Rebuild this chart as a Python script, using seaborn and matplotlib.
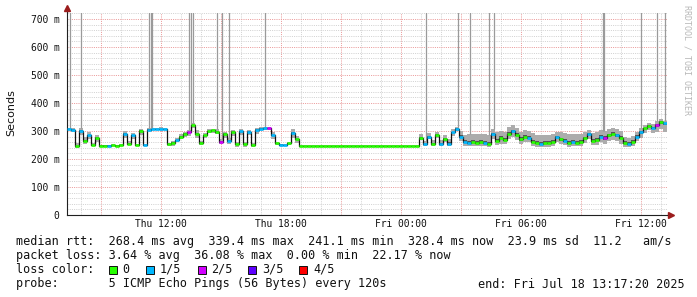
import numpy as np
import pandas as pd
import matplotlib
matplotlib.use("Agg")
import matplotlib.pyplot as plt
import matplotlib.dates as mdates
from matplotlib.ticker import FuncFormatter, MultipleLocator, FixedLocator
from matplotlib.patches import Rectangle
import seaborn as sns

# ---------------- data ----------------
start_time = "2025-07-17 07:17:20"
step_minutes = 12

median_ms = [
    307, 305, 245, 300, 265, 285, 250, 275, 248, 248,
    248, 250, 248, 250, 290, 255, 285, 250, 300, 250,
    305, 306, 306, 307, 306, 252, 258, 268, 280, 290,
    295, 320, 290, 258, 285, 300, 302, 298, 262, 290,
    265, 298, 252, 300, 252, 298, 250, 305, 308, 309,
    310, 285, 256, 251, 250, 256, 292, 270, 247, 247,
    247, 247, 247, 247, 247, 247, 247, 247, 247, 247,
    247, 247, 247, 247, 247, 247, 247, 247, 247, 247,
    247, 247, 247, 247, 247, 247, 247, 247, 275, 252,
    280, 255, 285, 255, 270, 255, 295, 308, 280, 262,
    258, 262, 258, 262, 258, 255, 290, 265, 275, 268,
    290, 300, 285, 270, 280, 275, 262, 258, 255, 258,
    256, 262, 278, 270, 265, 258, 262, 258, 262, 275,
    290, 265, 268, 280, 275, 285, 290, 285, 275, 258,
    255, 262, 280, 295, 310, 318, 312, 322, 333, 328,
]

smoke_up_ms = [
    4, 5, 12, 10, 14, 10, 6, 12, 3, 3,
    3, 3, 3, 3, 10, 8, 8, 4, 8, 4,
    5, 5, 5, 6, 5, 6, 8, 6, 8, 8,
    8, 10, 14, 8, 8, 6, 6, 8, 10, 8,
    10, 6, 8, 6, 8, 6, 6, 6, 5, 5,
    6, 10, 6, 4, 4, 6, 14, 12, 2, 2,
    2, 2, 2, 2, 2, 2, 2, 2, 2, 2,
    2, 2, 2, 2, 2, 2, 2, 2, 2, 2,
    2, 2, 2, 2, 2, 2, 2, 2, 14, 12,
    12, 12, 12, 12, 14, 16, 12, 8, 20, 22,
    30, 28, 30, 28, 30, 30, 18, 30, 25, 28,
    25, 20, 25, 28, 25, 25, 30, 28, 30, 28,
    30, 28, 20, 25, 28, 30, 28, 30, 28, 20,
    15, 28, 28, 22, 25, 22, 20, 22, 25, 22,
    20, 20, 18, 15, 10, 10, 12, 15, 10, 8,
]

smoke_dn_ms = [
    4, 8, 6, 14, 12, 14, 4, 14, 3, 3,
    3, 3, 3, 3, 14, 6, 12, 4, 14, 4,
    3, 3, 3, 3, 4, 6, 10, 8, 10, 10,
    14, 10, 14, 8, 10, 6, 8, 8, 10, 14,
    12, 16, 8, 16, 8, 14, 6, 14, 4, 4,
    6, 14, 6, 4, 4, 6, 16, 12, 2, 2,
    2, 2, 2, 2, 2, 2, 2, 2, 2, 2,
    2, 2, 2, 2, 2, 2, 2, 2, 2, 2,
    2, 2, 2, 2, 2, 2, 2, 2, 8, 6,
    10, 8, 10, 8, 10, 8, 14, 8, 16, 16,
    12, 14, 12, 14, 12, 12, 20, 14, 20, 16,
    20, 20, 18, 16, 18, 16, 14, 14, 12, 14,
    14, 16, 18, 16, 16, 14, 16, 12, 16, 18,
    18, 16, 18, 18, 22, 20, 22, 20, 20, 14,
    12, 14, 16, 20, 18, 16, 20, 25, 25, 30,
]

# loss level per sample: 0 -> 0/5, 1 -> 1/5, 2 -> 2/5, ...
loss_level = [
    1, 1, 0, 1, 0, 1, 0, 0, 0, 0,
    1, 0, 0, 0, 1, 0, 1, 0, 0, 1,
    1, 1, 1, 1, 1, 0, 0, 1, 0, 0,
    2, 0, 0, 0, 0, 0, 0, 0, 2, 0,
    1, 0, 0, 1, 0, 1, 0, 1, 1, 1,
    2, 1, 0, 1, 1, 0, 1, 0, 0, 0,
    0, 0, 0, 0, 0, 0, 0, 0, 0, 0,
    0, 0, 0, 0, 0, 0, 0, 0, 0, 0,
    0, 0, 0, 0, 0, 0, 0, 0, 0, 1,
    1, 0, 0, 1, 0, 1, 1, 1, 1, 1,
    1, 0, 0, 0, 1, 0, 1, 0, 0, 0,
    0, 1, 0, 0, 0, 1, 0, 0, 1, 0,
    0, 0, 1, 0, 1, 0, 1, 0, 0, 0,
    1, 0, 0, 1, 2, 0, 0, 1, 0, 0,
    1, 0, 1, 1, 0, 0, 1, 2, 0, 1,
]

# off-scale ping maxima (smoke reaching beyond the top of the graph)
spike_times = [
    "2025-07-17 07:26", "2025-07-17 07:59", "2025-07-17 11:23", "2025-07-17 11:29",
    "2025-07-17 11:33", "2025-07-17 13:23", "2025-07-17 13:29", "2025-07-17 13:35",
    "2025-07-17 14:47", "2025-07-17 15:02", "2025-07-17 15:23", "2025-07-17 17:11",
    "2025-07-18 01:14", "2025-07-18 02:50", "2025-07-18 03:26", "2025-07-18 04:23",
    "2025-07-18 04:38", "2025-07-18 10:06", "2025-07-18 10:09", "2025-07-18 11:59",
    "2025-07-18 12:47", "2025-07-18 13:11",
]
spike_max_ms = [900, 900, 900, 900, 900, 900, 900, 900, 900, 900, 900,
                900, 900, 900, 900, 900, 900, 900, 900, 900, 900, 900]

loss_labels = ["0", "1/5", "2/5", "3/5", "4/5"]
loss_colors = ["#26ff00", "#00b8ff", "#d200ff", "#5e00ff", "#ff0000"]

y_ticks_ms = [0, 100, 200, 300, 400, 500, 600, 700]

stat_lines = [
    "median rtt:  268.4 ms avg  339.4 ms max  241.1 ms min  328.4 ms now  23.9 ms sd  11.2   am/s",
    "packet loss: 3.64 % avg  36.08 % max  0.00 % min  22.17 % now",
    "loss color:",
    "probe:       5 ICMP Echo Pings (56 Bytes) every 120s",
]
end_text = "end: Fri Jul 18 13:17:20 2025"

# ---------------- figure ----------------
W, H = 697, 297
sns.set_style("white")
plt.rcParams['font.family'] = ['DejaVu Sans Mono', 'DejaVu Sans']

fig = plt.figure(figsize=(W / 100, H / 100), dpi=100)
fig.patch.set_facecolor("white")
ax = fig.add_axes([67 / W, (H - 215) / H, 600 / W, 202 / H])
ax.set_facecolor("white")

n = len(median_ms)
times = pd.date_range(start_time, periods=n + 1, freq=f"{step_minutes}min")
tnum = mdates.date2num(times.to_pydatetime())
med = np.array(median_ms, float)
hi = med + np.array(smoke_up_ms, float)
lo = med - np.array(smoke_dn_ms, float)
hi_in = med + 0.25 * np.array(smoke_up_ms, float)
lo_in = med - 0.25 * np.array(smoke_dn_ms, float)

ymax = 202 / 0.28
ax.set_xlim(tnum[0], tnum[-1])
ax.set_ylim(0, ymax)

# grid
minor_c = "#d2d2d2"
major_c = "#eb9a9a"
ax.yaxis.set_major_locator(FixedLocator(y_ticks_ms))
ax.yaxis.set_minor_locator(MultipleLocator(20))
ax.xaxis.set_major_locator(mdates.HourLocator(byhour=range(0, 24, 3)))
ax.xaxis.set_minor_locator(mdates.HourLocator())
ax.grid(which="minor", color=minor_c, lw=0.72, ls=(0, (1, 1.2)))
ax.grid(which="major", color=major_c, lw=0.72, ls=(0, (1, 1.2)))
ax.set_axisbelow(True)

# smoke
ext = lambda a: np.append(a, a[-1])
ax.fill_between(tnum, ext(lo), ext(hi), step="post", color="#acacac", lw=0, zorder=2)
ax.fill_between(tnum, ext(lo_in), ext(hi_in), step="post", color="#555555", lw=0, zorder=2.1)

# off-scale spikes
sp_t = mdates.date2num(pd.to_datetime(spike_times).to_pydatetime())
sp_idx = np.clip(((sp_t - tnum[0]) / (step_minutes / 1440.0)).astype(int), 0, n - 1)
ax.vlines(sp_t, hi[sp_idx], spike_max_ms, colors="#9a9a9a", lw=0.9, zorder=2.2)

# median line (black step) and loss-coloured segments
df = pd.DataFrame({"time": tnum, "median": ext(med)})
sns.lineplot(data=df, x="time", y="median", ax=ax, color="#111111", lw=0.9,
             drawstyle="steps-post", estimator=None, legend=False, zorder=3)
ax.hlines(med, tnum[:-1], tnum[1:], colors=[loss_colors[l] for l in loss_level],
          lw=1.9, zorder=4)

# axes styling
for s in ["top", "right"]:
    ax.spines[s].set_visible(False)
for s in ["left", "bottom"]:
    ax.spines[s].set_color("#202020")
    ax.spines[s].set_linewidth(0.8)
ax.plot([0, 0], [1.0, 1.02], transform=ax.transAxes, color="#202020", lw=0.8, clip_on=False)
ax.plot([0], [1.025], marker="^", ms=4, color="#9b1c1c", transform=ax.transAxes, clip_on=False)
ax.plot([1.0, 1.003], [0, 0], transform=ax.transAxes, color="#202020", lw=0.8, clip_on=False)
ax.plot([1.006], [0], marker=">", ms=4, color="#9b1c1c", transform=ax.transAxes, clip_on=False)

ax.yaxis.set_major_formatter(FuncFormatter(lambda v, p: "0" if v == 0 else f"{int(round(v))} m"))

def xfmt(v, p):
    d = mdates.num2date(v)
    return d.strftime("%a %H:%M") if d.hour % 6 == 0 else ""

ax.xaxis.set_major_formatter(FuncFormatter(xfmt))
ax.tick_params(axis="both", which="both", length=0)
ax.tick_params(axis="y", pad=5.5, labelsize=6.9, labelcolor="#111111")
ax.tick_params(axis="x", pad=3.2, labelsize=6.9, labelcolor="#111111")
ax.set_xlabel("")
ax.set_ylabel("")

# y label and watermark
fig.text(11 / W, 1 - 113 / H, "Seconds", rotation=90, ha="center", va="center",
         fontsize=8, family=["DejaVu Sans"], color="#111111")
fig.text(687 / W, 1 - 60 / H, "RRDTOOL / TOBI OETIKER", rotation=270, ha="center",
         va="center", fontsize=6, color="#b8b8b8")

# legend / stats
rows_y = [241, 255.5, 269.5, 284]
for txt, yy in zip(stat_lines, rows_y):
    fig.text(16 / W, 1 - yy / H, txt, ha="left", va="center", fontsize=8.5, color="#111111")
fig.text(478 / W, 1 - rows_y[3] / H, end_text, ha="left", va="center", fontsize=8.5,
         color="#111111")

sq_x = [108.5, 146, 197.5, 248, 299]
for lab, col, x0 in zip(loss_labels, loss_colors, sq_x):
    fig.patches.append(Rectangle((x0 / W, 1 - (rows_y[2] + 4) / H), 8 / W, 8 / H,
                                 transform=fig.transFigure, facecolor=col,
                                 edgecolor="#111111", lw=0.7))
    fig.text((x0 + 14) / W, 1 - rows_y[2] / H, lab, ha="left", va="center",
             fontsize=8.5, color="#111111")

fig.savefig("out.png", dpi=100, facecolor="white")
